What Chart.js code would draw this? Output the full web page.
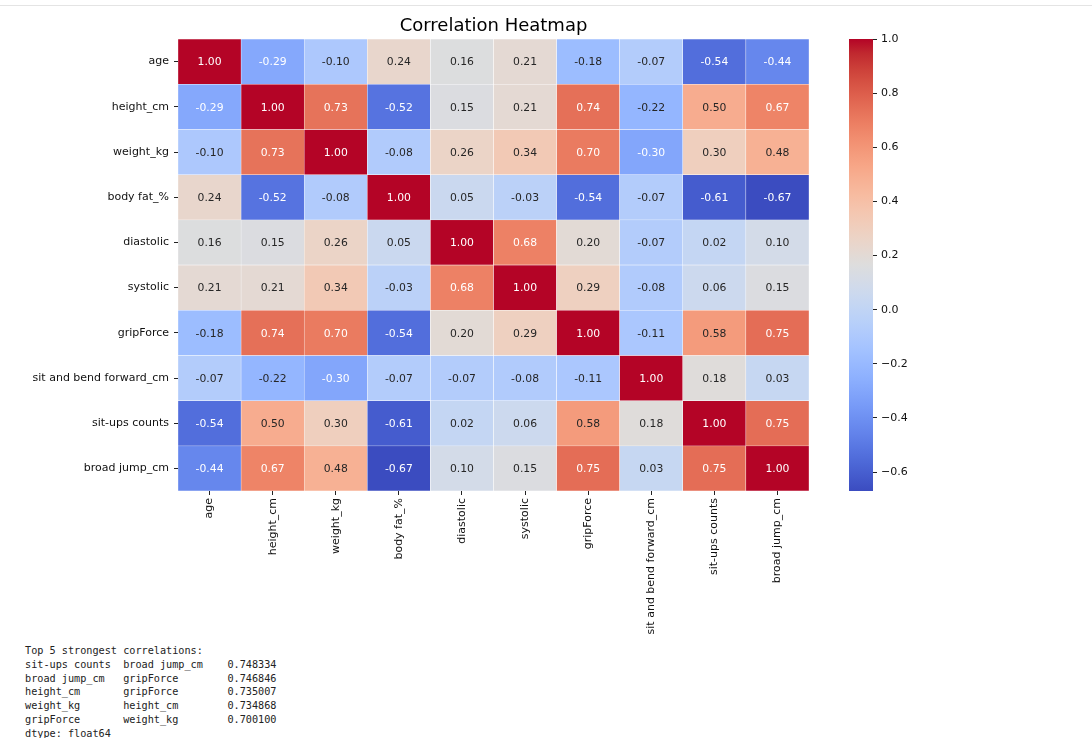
<!DOCTYPE html>
<html>
<head>
<meta charset="utf-8">
<script src="https://cdn.jsdelivr.net/npm/chart.js@4.4.1/dist/chart.umd.min.js"></script>
<style>
  body { margin: 0; background: #fff; width: 1092px; height: 738px; overflow: hidden; position: relative; }
  .topline { position: absolute; left: 0; top: 5px; width: 1092px; border-top: 1px solid #e4e4e4; }
  #heatWrap { position: absolute; left: 0; top: 0; width: 830px; height: 640px; }
  #barWrap { position: absolute; left: 840px; top: 0; width: 83px; height: 640px; }
  #summary { position: absolute; left: 25px; top: 644px; margin: 0; font: 10.2px/13.8px 'DejaVu Sans Mono', monospace; color: #222; }
</style>
</head>
<body>
<div class="topline"></div>
<div id="heatWrap"><canvas id="heatChart"></canvas></div>
<div id="barWrap"><canvas id="barChart"></canvas></div>
<pre id="summary"></pre>
<script>
// ===== Data =====
const varLabels = ['age', 'height_cm', 'weight_kg', 'body fat_%', 'diastolic', 'systolic',
  'gripForce', 'sit and bend forward_cm', 'sit-ups counts', 'broad jump_cm'];

const corrAge      = [1.00, -0.29, -0.10, 0.24, 0.16, 0.21, -0.18, -0.07, -0.54, -0.44];
const corrHeight   = [-0.29, 1.00, 0.73, -0.52, 0.15, 0.21, 0.74, -0.22, 0.50, 0.67];
const corrWeight   = [-0.10, 0.73, 1.00, -0.08, 0.26, 0.34, 0.70, -0.30, 0.30, 0.48];
const corrBodyFat  = [0.24, -0.52, -0.08, 1.00, 0.05, -0.03, -0.54, -0.07, -0.61, -0.67];
const corrDiast    = [0.16, 0.15, 0.26, 0.05, 1.00, 0.68, 0.20, -0.07, 0.02, 0.10];
const corrSyst     = [0.21, 0.21, 0.34, -0.03, 0.68, 1.00, 0.29, -0.08, 0.06, 0.15];
const corrGrip     = [-0.18, 0.74, 0.70, -0.54, 0.20, 0.29, 1.00, -0.11, 0.58, 0.75];
const corrSitBend  = [-0.07, -0.22, -0.30, -0.07, -0.07, -0.08, -0.11, 1.00, 0.18, 0.03];
const corrSitUps   = [-0.54, 0.50, 0.30, -0.61, 0.02, 0.06, 0.58, 0.18, 1.00, 0.75];
const corrJump     = [-0.44, 0.67, 0.48, -0.67, 0.10, 0.15, 0.75, 0.03, 0.75, 1.00];
const corrRows = [corrAge, corrHeight, corrWeight, corrBodyFat, corrDiast, corrSyst,
  corrGrip, corrSitBend, corrSitUps, corrJump];

const colorbarTicks = [-0.6, -0.4, -0.2, 0.0, 0.2, 0.4, 0.6, 0.8, 1.0];

const topPairA = ['sit-ups counts', 'broad jump_cm', 'height_cm', 'weight_kg', 'gripForce'];
const topPairB = ['broad jump_cm', 'gripForce', 'gripForce', 'height_cm', 'weight_kg'];
const topPairValue = ['0.748334', '0.746846', '0.735007', '0.734868', '0.700100'];

// ===== coolwarm colormap =====
const coolwarm = [
  [59,76,192],[68,90,204],[77,104,215],[87,117,225],[98,130,234],[108,142,241],[119,154,247],
  [130,165,251],[141,176,254],[152,185,255],[163,194,255],[174,201,253],[184,208,249],
  [194,213,244],[204,217,238],[213,219,230],[221,221,221],[229,216,209],[236,211,197],
  [241,204,185],[245,196,173],[247,187,160],[247,177,148],[247,166,135],[244,154,123],
  [241,141,111],[236,127,99],[229,112,88],[222,96,77],[213,80,66],[203,62,56],[192,40,47],[180,4,38]
];
const allValues = corrRows.flat();
const vMin = Math.min(...allValues);
const vMax = Math.max(...allValues);

function cmapRgb(v) {
  let t = (v - vMin) / (vMax - vMin);
  t = Math.max(0, Math.min(1, t)) * (coolwarm.length - 1);
  const i = Math.min(Math.floor(t), coolwarm.length - 2);
  const f = t - i;
  return coolwarm[i].map((c, k) => Math.round(c + (coolwarm[i + 1][k] - c) * f));
}
function cmap(v) {
  const c = cmapRgb(v);
  return 'rgb(' + c[0] + ',' + c[1] + ',' + c[2] + ')';
}
// same rule as seaborn: light text on dark cells
function textColorFor(v) {
  const lin = cmapRgb(v).map(c => {
    c = c / 255;
    return c <= 0.03928 ? c / 12.92 : Math.pow((c + 0.055) / 1.055, 2.4);
  });
  const lum = 0.2126 * lin[0] + 0.7152 * lin[1] + 0.0722 * lin[2];
  return lum > 0.408 ? '#262626' : '#ffffff';
}

const font = "'DejaVu Sans', sans-serif";

// ===== Cell labels =====
const cellLabels = {
  id: 'cellLabels',
  afterDatasetsDraw(chart) {
    const ctx = chart.ctx;
    ctx.save();
    ctx.font = '10.8px ' + font;
    ctx.textAlign = 'center';
    ctx.textBaseline = 'middle';
    chart.data.datasets.forEach((ds, r) => {
      chart.getDatasetMeta(r).data.forEach((bar, c) => {
        const v = corrRows[r][c];
        const p = bar.getCenterPoint();
        ctx.fillStyle = textColorFor(v);
        ctx.fillText(v.toFixed(2), p.x, p.y + 1);
      });
    });
    ctx.restore();
  }
};

// ===== Heatmap =====
new Chart(document.getElementById('heatChart'), {
  type: 'bar',
  data: {
    labels: varLabels,
    datasets: corrRows.map((row, r) => ({
      label: varLabels[r],
      data: row.map(() => 1),
      backgroundColor: row.map(cmap),
      borderColor: '#ffffff',
      borderWidth: 0.5,
      borderSkipped: false,
      barPercentage: 1,
      categoryPercentage: 1
    }))
  },
  options: {
    responsive: true,
    maintainAspectRatio: false,
    animation: false,
    layout: { padding: { left: 0, right: 21, top: 0, bottom: 0 } },
    plugins: {
      legend: { display: false },
      tooltip: { enabled: false },
      title: {
        display: true,
        text: 'Correlation Heatmap',
        fullSize: false,
        color: '#000',
        font: { family: font, size: 18, weight: 'normal', lineHeight: 1.2 },
        padding: { top: 16, bottom: 1.4 }
      }
    },
    scales: {
      x: {
        stacked: true,
        grid: { offset: false, drawOnChartArea: false, tickLength: 4, color: '#222' },
        border: { display: false },
        ticks: { minRotation: 90, maxRotation: 90, padding: 3, color: '#111', font: { family: font, size: 11 } },
        afterFit: (scale) => { scale.height = 149; }
      },
      y: {
        type: 'linear',
        stacked: true,
        reverse: true,
        min: 0,
        max: varLabels.length,
        grid: { drawOnChartArea: false, tickLength: 4, color: '#222' },
        border: { display: false },
        ticks: {
          padding: 5,
          color: '#111',
          font: { family: font, size: 11 },
          callback: (v) => varLabels[Math.floor(v)]
        },
        afterBuildTicks: (scale) => {
          scale.ticks = varLabels.map((_, i) => ({ value: i + 0.5 }));
        },
        afterFit: (scale) => { scale.width = 178; }
      }
    }
  },
  plugins: [cellLabels]
});

// ===== Colorbar =====
new Chart(document.getElementById('barChart'), {
  type: 'bar',
  data: {
    labels: [''],
    datasets: [{
      data: [[vMin, vMax]],
      barPercentage: 1,
      categoryPercentage: 1,
      borderWidth: 0,
      backgroundColor: (c) => {
        const area = c.chart.chartArea;
        if (!area) return null;
        const g = c.chart.ctx.createLinearGradient(0, area.bottom, 0, area.top);
        coolwarm.forEach((rgb, i) => {
          g.addColorStop(i / (coolwarm.length - 1), 'rgb(' + rgb.join(',') + ')');
        });
        return g;
      }
    }]
  },
  options: {
    responsive: true,
    maintainAspectRatio: false,
    animation: false,
    layout: { padding: { left: 9, right: 0, top: 39, bottom: 149 } },
    plugins: { legend: { display: false }, tooltip: { enabled: false } },
    scales: {
      x: { display: false },
      y: {
        position: 'right',
        min: vMin,
        max: vMax,
        grid: { drawOnChartArea: false, tickLength: 4, color: '#222' },
        border: { display: false },
        ticks: {
          padding: 4,
          color: '#111',
          font: { family: font, size: 11 },
          callback: (v) => v.toFixed(1).replace('-', '\u2212')
        },
        afterBuildTicks: (scale) => {
          scale.ticks = colorbarTicks.map(v => ({ value: v }));
        },
        afterFit: (scale) => { scale.width = 50; }
      }
    }
  }
});

// ===== Summary printout =====
let lines = ['Top 5 strongest correlations:'];
topPairA.forEach((a, i) => {
  lines.push(a.padEnd(16) + topPairB[i].padEnd(17) + topPairValue[i]);
});
lines.push('dtype: float64');
document.getElementById('summary').textContent = lines.join('\n');
</script>
</body>
</html>
